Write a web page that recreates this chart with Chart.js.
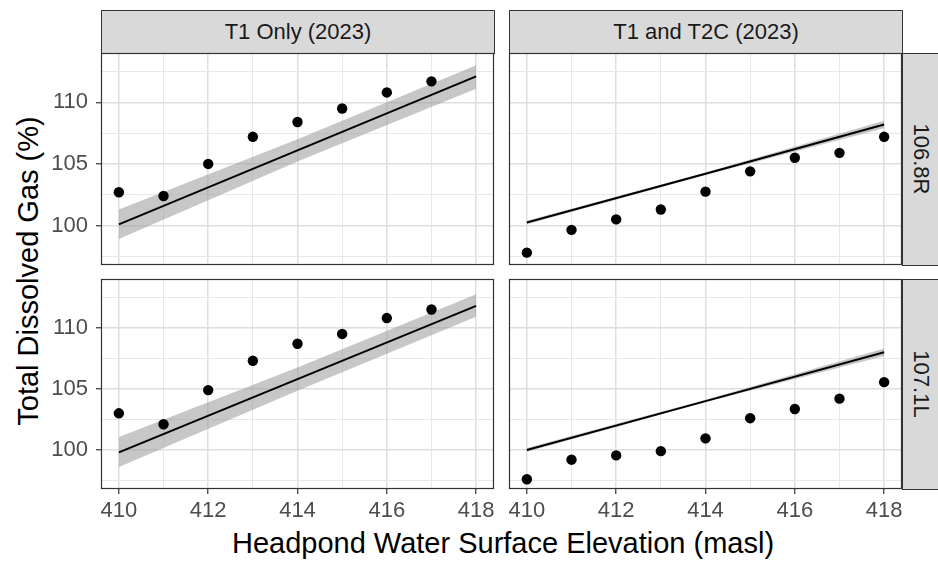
<!DOCTYPE html>
<html>
<head>
<meta charset="utf-8">
<script src="https://cdn.jsdelivr.net/npm/chart.js@4.4.1/dist/chart.umd.min.js"></script>
<style>
  html, body { margin: 0; padding: 0; background: #fff; overflow: hidden; }
  body { width: 938px; height: 561px; position: relative; font-family: "Liberation Sans", Arial, sans-serif; }
  canvas { position: absolute; }
  .strip { position: absolute; box-sizing: border-box; background: #d9d9d9; border: 1px solid #333; }
  .lbl { position: absolute; white-space: nowrap; transform: translate(-50%, -50%); line-height: 1; }
</style>
</head>
<body>
<div class="strip" style="left:101px; top:10px; width:394px; height:44px;"></div>
<div class="strip" style="left:509px; top:10px; width:394px; height:44px;"></div>
<div class="strip" style="left:902px; top:53px; width:46px; height:213px;"></div>
<div class="strip" style="left:902px; top:279px; width:46px; height:211px;"></div>

<div class="lbl" style="left:298px; top:32px; font-size:22px; color:#1a1a1a;">T1 Only (2023)</div>
<div class="lbl" style="left:706px; top:32px; font-size:22px; color:#1a1a1a;">T1 and T2C (2023)</div>
<div class="lbl" style="left:921px; top:159px; font-size:22px; color:#1a1a1a; transform: translate(-50%, -50%) rotate(90deg);">106.8R</div>
<div class="lbl" style="left:921px; top:384px; font-size:22px; color:#1a1a1a; transform: translate(-50%, -50%) rotate(90deg);">107.1L</div>

<div class="lbl" style="left:503px; top:543px; font-size:29px; color:#000;">Headpond Water Surface Elevation (masl)</div>
<div class="lbl" style="left:28px; top:271px; font-size:29px; color:#000; transform: translate(-50%, -50%) rotate(-90deg);">Total Dissolved Gas (%)</div>

<canvas id="tl"></canvas>
<canvas id="tr"></canvas>
<canvas id="bl"></canvas>
<canvas id="br"></canvas>

<script>
// observed points (x = 410, 411, ...)
const elevT1 = [410, 411, 412, 413, 414, 415, 416, 417];
const elevT2C = [410, 411, 412, 413, 414, 415, 416, 417, 418];
const tdgT1_R = [102.7, 102.4, 105.0, 107.2, 108.4, 109.5, 110.8, 111.7];
const tdgT2C_R = [97.8, 99.65, 100.5, 101.3, 102.75, 104.4, 105.5, 105.9, 107.2];
const tdgT1_L = [103.0, 102.1, 104.9, 107.3, 108.7, 109.5, 110.8, 111.5];
const tdgT2C_L = [97.6, 99.2, 99.55, 99.9, 100.95, 102.6, 103.35, 104.2, 105.55];

// fitted line and band at 410, 414, 418
const fitX = [410, 414, 418];
const fitT1_R = [100.1, 106.1, 112.1];
const upT1_R = [101.3, 107.0, 113.0];
const loT1_R = [98.9, 105.2, 111.1];
const fitT2C_R = [100.25, 104.2, 108.2];
const upT2C_R = [100.4, 104.3, 108.5];
const loT2C_R = [100.1, 104.1, 107.9];
const fitT1_L = [99.8, 105.8, 111.8];
const upT1_L = [101.05, 106.75, 112.75];
const loT1_L = [98.6, 104.85, 110.9];
const fitT2C_L = [100.0, 104.0, 108.0];
const upT2C_L = [100.15, 104.1, 108.3];
const loT2C_L = [99.85, 103.9, 107.7];

const xTicks = [410, 412, 414, 416, 418];
const yTicks = [100, 105, 110];

const pts = (xs, ys) => ys.map((y, i) => ({ x: xs[i], y: y }));

// panel border
const borderPlugin = {
    id: 'panelBorder',
    afterDraw(chart) {
        const a = chart.chartArea;
        const c = chart.ctx;
        c.save();
        c.strokeStyle = '#333';
        c.lineWidth = 1.2;
        c.strokeRect(a.left + 0.5, a.top + 0.5, a.right - a.left - 1, a.bottom - a.top - 1);
        c.restore();
    }
};

const PAD = 12;

function makePanel(id, box, showX, showY, xs, ys, fit, up, lo) {
    const axW = showY ? 50 : 0;
    const axH = showX ? 38 : 0;
    const w = box.x1 - box.x0;
    const h = box.y1 - box.y0;
    const el = document.getElementById(id);
    el.width = axW + w + 2 * PAD;
    el.height = h + axH + 2 * PAD;
    el.style.left = (box.x0 - axW - PAD) + 'px';
    el.style.top = (box.y0 - PAD) + 'px';
    el.style.width = el.width + 'px';
    el.style.height = el.height + 'px';

    new Chart(el, {
        type: 'line',
        data: {
            datasets: [
                {
                    data: pts(xs, ys),
                    showLine: false,
                    pointRadius: 5.2,
                    pointBackgroundColor: '#000',
                    pointBorderColor: '#000',
                    pointBorderWidth: 0
                },
                {
                    data: pts(fitX, fit),
                    borderColor: '#000',
                    borderWidth: 2,
                    pointRadius: 0,
                    fill: false
                },
                {
                    data: pts(fitX, up),
                    borderWidth: 0,
                    pointRadius: 0,
                    backgroundColor: 'rgba(153,153,153,0.55)',
                    fill: '+1'
                },
                {
                    data: pts(fitX, lo),
                    borderWidth: 0,
                    pointRadius: 0,
                    fill: false
                }
            ]
        },
        options: {
            responsive: false,
            animation: false,
            layout: { padding: PAD, autoPadding: false },
            plugins: { legend: { display: false }, tooltip: { enabled: false } },
            scales: {
                x: {
                    type: 'linear',
                    min: 409.6,
                    max: 418.4,
                    border: { display: false },
                    grid: {
                        color: ctx => xTicks.includes(ctx.tick.value) ? '#dedede' : '#e8e8e8',
                        lineWidth: ctx => xTicks.includes(ctx.tick.value) ? 1.5 : 1,
                        drawTicks: showX,
                        tickLength: 5,
                        tickWidth: 1.2,
                        tickColor: ctx => xTicks.includes(ctx.tick.value) ? '#333' : 'rgba(0,0,0,0)'
                    },
                    ticks: {
                        display: showX,
                        stepSize: 1,
                        includeBounds: false,
                        maxRotation: 0,
                        autoSkip: false,
                        padding: 4,
                        color: '#4d4d4d',
                        font: { family: '"Liberation Sans", Arial, sans-serif', size: 22 },
                        callback: v => xTicks.includes(v) ? String(v) : ''
                    },
                    afterFit: s => {
                        s.height = axH;
                        s.paddingLeft = 0; s.paddingRight = 0;
                        s.paddingTop = 0; s.paddingBottom = 0;
                    }
                },
                y: {
                    type: 'linear',
                    min: 96.8,
                    max: 114,
                    border: { display: false },
                    grid: {
                        color: ctx => yTicks.includes(ctx.tick.value) ? '#dedede' : '#e8e8e8',
                        lineWidth: ctx => yTicks.includes(ctx.tick.value) ? 1.5 : 1,
                        drawTicks: showY,
                        tickLength: 5,
                        tickWidth: 1.2,
                        tickColor: ctx => yTicks.includes(ctx.tick.value) ? '#333' : 'rgba(0,0,0,0)'
                    },
                    ticks: {
                        display: showY,
                        stepSize: 2.5,
                        includeBounds: false,
                        autoSkip: false,
                        padding: 8,
                        color: '#4d4d4d',
                        font: { family: '"Liberation Sans", Arial, sans-serif', size: 22 },
                        callback: v => yTicks.includes(v) ? String(v) : ''
                    },
                    afterFit: s => {
                        s.width = axW;
                        s.paddingLeft = 0; s.paddingRight = 0;
                        s.paddingTop = 0; s.paddingBottom = 0;
                    }
                }
            }
        },
        plugins: [borderPlugin]
    });
}

makePanel('tl', { x0: 101, y0: 53, x1: 494, y1: 265 }, false, true, elevT1, tdgT1_R, fitT1_R, upT1_R, loT1_R);
makePanel('tr', { x0: 509, y0: 53, x1: 902, y1: 265 }, false, false, elevT2C, tdgT2C_R, fitT2C_R, upT2C_R, loT2C_R);
makePanel('bl', { x0: 101, y0: 279, x1: 494, y1: 489 }, true, true, elevT1, tdgT1_L, fitT1_L, upT1_L, loT1_L);
makePanel('br', { x0: 509, y0: 279, x1: 902, y1: 489 }, true, false, elevT2C, tdgT2C_L, fitT2C_L, upT2C_L, loT2C_L);
</script>
</body>
</html>
